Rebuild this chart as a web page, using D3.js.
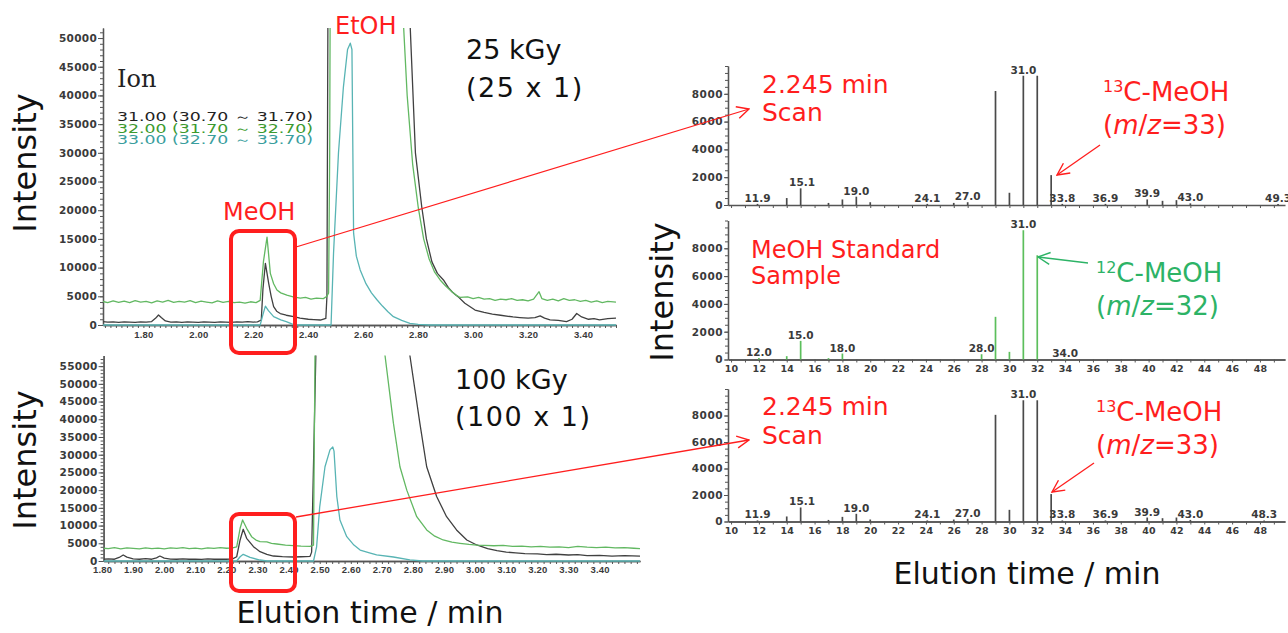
<!DOCTYPE html>
<html>
<head>
<meta charset="utf-8">
<title>MeOH / EtOH chromatograms and mass spectra</title>
<script src="https://d3js.org/d3.v7.min.js"></script>
<style>
  body { margin: 0; background: #fff; }
</style>
</head>
<body>
<svg id="fig" width="1288" height="633" font-family="DejaVu Sans, Verdana, sans-serif"></svg>
<script>
// ---- chromatogram data: [elution time (min), intensity] ----
var ion31_25 = [[1.653,600],[1.67,500],[1.69,550],[1.71,450],[1.73,550],[1.75,500],[1.77,450],[1.79,550],[1.81,500],[1.83,600],[1.845,1200],[1.855,1740],[1.865,1300],[1.88,700],[1.90,500],[1.92,550],[1.94,450],[1.96,550],[1.98,500],[2.00,450],[2.02,550],[2.04,500],[2.06,450],[2.08,550],[2.10,500],[2.12,450],[2.14,550],[2.16,500],[2.18,600],[2.20,500],[2.215,550],[2.229,870],[2.235,6200],[2.244,10750],[2.256,7260],[2.265,5000],[2.274,3200],[2.285,2400],[2.298,2000],[2.32,1700],[2.347,1450],[2.37,1200],[2.40,1000],[2.42,950],[2.444,870],[2.464,1160],[2.468,5000],[2.472,60000],
  [2.769,60000],[2.771,52000],[2.79,30000],[2.813,20600],[2.83,15000],[2.85,11000],[2.87,9000],[2.892,7850],[2.91,6500],[2.925,5700],[2.945,4940],[2.97,3800],[3.007,2600],[3.04,2200],[3.07,1900],[3.10,1700],[3.145,1400],[3.17,1300],[3.20,1200],[3.225,1300],[3.244,1600],[3.26,1200],[3.28,900],[3.31,800],[3.34,600],[3.36,1000],[3.377,2000],[3.395,1400],[3.42,1000],[3.44,1100],[3.46,900],[3.49,1100],[3.52,1200]];
var ion32_25 = [[1.653,4100],[1.67,3900],[1.69,4200],[1.71,3950],[1.73,4150],[1.75,3900],[1.77,4250],[1.79,4000],[1.81,4100],[1.83,3850],[1.85,4200],[1.87,4000],[1.89,4300],[1.91,3950],[1.93,4100],[1.95,4000],[1.97,4250],[1.99,3900],[2.01,4150],[2.03,4000],[2.05,3850],[2.07,4200],[2.09,3950],[2.11,4100],[2.13,3900],[2.15,4000],[2.17,3800],[2.19,4050],[2.21,3900],[2.225,4300],[2.237,11100],[2.25,15300],[2.262,9000],[2.274,7200],[2.286,6100],[2.30,5600],[2.322,5200],[2.345,4900],[2.371,4700],[2.39,4800],[2.41,4500],[2.43,4700],[2.455,4600],[2.468,5000],[2.474,5600],[2.478,30000],[2.48,60000],
  [2.745,60000],[2.747,52000],[2.76,40000],[2.78,28000],[2.80,20600],[2.82,15000],[2.84,11500],[2.86,9200],[2.88,7850],[2.90,6800],[2.916,6100],[2.935,5300],[2.953,4800],[2.98,4900],[3.00,4600],[3.02,4800],[3.04,4500],[3.06,4600],[3.08,4300],[3.10,4500],[3.12,4400],[3.14,4600],[3.16,4300],[3.18,4400],[3.20,4200],[3.22,4500],[3.24,5800],[3.25,4600],[3.27,4300],[3.29,4500],[3.31,4200],[3.33,4600],[3.35,4300],[3.37,4400],[3.39,4100],[3.41,4300],[3.43,4000],[3.45,4200],[3.47,3900],[3.49,4100],[3.52,4000]];
var ion33_25 = [[1.653,0],[2.225,0],[2.235,1800],[2.244,3300],[2.255,2500],[2.274,1450],[2.30,900],[2.32,600],[2.34,200],[2.36,0],[2.483,0],[2.492,12500],[2.51,30000],[2.528,41500],[2.543,48000],[2.553,49100],[2.559,48000],[2.565,16000],[2.575,12000],[2.589,9600],[2.61,7200],[2.63,5600],[2.65,4400],[2.67,3300],[2.69,2300],[2.71,1450],[2.74,800],[2.77,300],[2.80,100],[2.84,0],[3.52,0]];

var ion31_100 = [[1.805,500],[1.82,600],[1.84,500],[1.855,1000],[1.868,1700],[1.88,1100],[1.90,600],[1.92,500],[1.94,650],[1.96,500],[1.975,900],[1.986,1400],[2.00,800],[2.02,550],[2.04,500],[2.06,600],[2.08,500],[2.10,550],[2.12,450],[2.14,600],[2.16,500],[2.18,550],[2.20,500],[2.22,600],[2.233,1200],[2.244,5930],[2.254,8950],[2.265,6400],[2.287,4050],[2.308,2630],[2.33,1900],[2.351,1410],[2.38,1250],[2.415,1130],[2.44,1200],[2.469,1320],[2.474,2500],[2.488,60000],
  [2.788,60000],[2.79,58000],[2.822,38900],[2.844,26600],[2.876,18200],[2.908,12500],[2.94,8760],[2.973,5930],[3.005,4520],[3.04,3500],[3.07,2900],[3.10,2500],[3.13,2300],[3.16,2100],[3.20,2000],[3.23,1800],[3.26,1900],[3.30,1700],[3.33,1800],[3.36,1500],[3.40,1600],[3.44,1400],[3.48,1500],[3.53,1400]];
var ion32_100 = [[1.805,3600],[1.82,3500],[1.84,3750],[1.86,3450],[1.88,3700],[1.90,3550],[1.92,3400],[1.94,3700],[1.96,3500],[1.98,3650],[2.00,3450],[2.02,3700],[2.04,3550],[2.06,3750],[2.08,3500],[2.10,3650],[2.12,3450],[2.14,3700],[2.16,3550],[2.18,3800],[2.20,3600],[2.22,3700],[2.233,4000],[2.244,9230],[2.252,11580],[2.265,9230],[2.281,6870],[2.295,5900],[2.308,5460],[2.33,5400],[2.345,5000],[2.362,4800],[2.39,4500],[2.415,4330],[2.44,4200],[2.469,4140],[2.48,4500],[2.485,60000],
  [2.708,60000],[2.71,58000],[2.737,38900],[2.758,26600],[2.78,20000],[2.812,12500],[2.844,8760],[2.87,7000],[2.897,5930],[2.925,5300],[2.951,5000],[2.98,4700],[3.005,4500],[3.03,4400],[3.06,4300],[3.09,4400],[3.12,4100],[3.15,4200],[3.18,4000],[3.21,4100],[3.24,3900],[3.27,4000],[3.30,3800],[3.33,4100],[3.36,3900],[3.39,3800],[3.42,3900],[3.45,3700],[3.48,3800],[3.51,3600],[3.53,3500]];
var ion33_100 = [[1.805,0],[2.233,0],[2.244,1200],[2.254,1880],[2.276,1000],[2.308,280],[2.33,0],[2.48,0],[2.49,4000],[2.50,15300],[2.517,26600],[2.533,31350],[2.542,32200],[2.546,31000],[2.555,18200],[2.565,11580],[2.587,6860],[2.61,4500],[2.63,3100],[2.66,2300],[2.683,1700],[2.737,1130],[2.79,300],[2.83,0],[3.53,0]];

// ---- mass spectra: m/z and intensity ----
var scan25Mz  = [11.9, 14, 15, 17, 18, 19, 20, 24.1, 26, 27, 29, 30, 31, 32, 33, 33.8, 36.9, 39.9, 41, 42, 43, 49.3];
var scan25Int = [80, 500, 1200, 150, 400, 600, 200, 80, 150, 200, 8200, 880, 9300, 9300, 2150, 80, 80, 400, 300, 350, 120, 80];
var scan25Labels = [11.9, 15.1, 19.0, 24.1, 27.0, 31.0, 33.8, 36.9, 39.9, 43.0, 49.3];

var stdMz  = [12, 14, 15, 17, 18, 28, 29, 30, 31, 32, 34];
var stdInt = [100, 240, 1340, 100, 430, 380, 3070, 550, 9300, 7500, 60];
var stdLabels = [12.0, 15.0, 18.0, 28.0, 31.0, 34.0];

var scan100Mz  = [11.9, 14, 15, 17, 18, 19, 20, 24.1, 26, 27, 29, 30, 31, 32, 33, 33.8, 36.9, 39.9, 41, 42, 43, 48.3];
var scan100Int = [80, 380, 1060, 120, 350, 580, 150, 80, 150, 200, 8050, 880, 9150, 9150, 2070, 80, 80, 300, 250, 300, 120, 80];
var scan100Labels = [11.9, 15.1, 19.0, 24.1, 27.0, 31.0, 33.8, 36.9, 39.9, 43.0, 48.3];

// ---- ticks and legend ----
var yTicks25 = d3.range(0, 50001, 5000);
var yTicks100 = d3.range(0, 55001, 5000);
var xTicks25 = [1.8, 2.0, 2.2, 2.4, 2.6, 2.8, 3.0, 3.2, 3.4];
var xTicks100 = [1.8, 1.9, 2.0, 2.1, 2.2, 2.3, 2.4, 2.5, 2.6, 2.7, 2.8, 2.9, 3.0, 3.1, 3.2, 3.3, 3.4];
var mzTicks = d3.range(10, 49, 2);
var specYTicks = [0, 2000, 4000, 6000, 8000];
var ionNames = ["31.00 (30.70 ～ 31.70)", "32.00 (31.70 ～ 32.70)", "33.00 (32.70 ～ 33.70)"];

var C31 = "#404040", C32 = "#62b862", C33 = "#58b4b4";
var RED = "#ff1e1e", GRN = "#2db366", AXIS = "#555", TICK = "#3a3a3a";

var svg = d3.select("#fig");
var defs = svg.append("defs");
svg.append("rect").attr("width", 1288).attr("height", 633).attr("fill", "#fff");

function marker(id, col) {
  defs.append("marker").attr("id", id).attr("viewBox", "0 0 14 14")
    .attr("refX", 13).attr("refY", 7).attr("markerWidth", 14).attr("markerHeight", 14)
    .attr("markerUnits", "userSpaceOnUse").attr("orient", "auto")
    .append("path").attr("d", "M1,1 L13,7 L1,13").attr("fill", "none")
    .attr("stroke", col).attr("stroke-width", 1.4);
}
marker("arrRed", RED);
marker("arrGrn", GRN);

function styleAxis(sel, font, size, weight, ls) {
  sel.select(".domain").attr("stroke", AXIS).attr("stroke-width", 1.3);
  sel.selectAll(".tick line").attr("stroke", AXIS).attr("stroke-width", 1);
  sel.selectAll(".tick text").attr("fill", TICK).attr("font-family", font)
    .attr("font-size", size).attr("font-weight", weight).attr("letter-spacing", ls || 0);
}

function chrom(o) {
  var x = d3.scaleLinear().domain(o.xDom).range(o.xRng);
  var y = d3.scaleLinear().domain(o.yDom).range(o.yRng);
  var g = svg.append("g");

  defs.append("clipPath").attr("id", o.name).append("rect")
    .attr("x", o.xRng[0]).attr("y", o.yRng[1])
    .attr("width", o.xRng[1] - o.xRng[0]).attr("height", o.yRng[0] - o.yRng[1] + 1);

  // minor + major y ticks
  g.append("g").attr("transform", "translate(" + o.xRng[0] + ",0)")
    .call(d3.axisLeft(y).tickValues(d3.range(0, o.yDom[1], 1000)).tickSize(3).tickSizeOuter(0).tickFormat(""))
    .call(styleAxis);
  g.append("g").attr("transform", "translate(" + o.xRng[0] + ",0)")
    .call(d3.axisLeft(y).tickValues(o.yTicks).tickSize(5).tickSizeOuter(0).tickPadding(1).tickFormat(d3.format("d")))
    .call(styleAxis, "DejaVu Sans", 10.5, "bold", 0.3);

  // x ticks every 0.02 min inside the domain
  var minorX = d3.range(Math.ceil(o.xDom[0] * 50), Math.floor(o.xDom[1] * 50) + 1).map(function(k) { return k / 50; });
  g.append("g").attr("transform", "translate(0," + o.yRng[0] + ")")
    .call(d3.axisBottom(x).tickValues(minorX).tickSize(3).tickSizeOuter(0).tickFormat(""))
    .call(styleAxis);
  g.append("g").attr("transform", "translate(0," + o.yRng[0] + ")")
    .call(d3.axisBottom(x).tickValues(o.xTicks).tickSize(0).tickPadding(o.pad).tickFormat(d3.format(".2f")))
    .call(styleAxis, "Liberation Sans", 9.5, "bold", 0.2);

  var line = d3.line().x(function(d) { return x(d[0]); }).y(function(d) { return y(d[1]); });
  o.series.forEach(function(s) {
    g.append("path").datum(s[0]).attr("clip-path", "url(#" + o.name + ")")
      .attr("fill", "none").attr("stroke", s[1]).attr("stroke-width", 1.3)
      .attr("stroke-linejoin", "round").attr("d", line);
  });
}

chrom({ name: "c25", xDom: [1.653, 3.52], xRng: [103, 616], yDom: [0, 51750], yRng: [325, 28],
  yTicks: yTicks25, xTicks: xTicks25, pad: 6.5,
  series: [[ion31_25, C31], [ion32_25, C32], [ion33_25, C33]] });
chrom({ name: "c100", xDom: [1.805, 3.53], xRng: [103.6, 640], yDom: [0, 58000], yRng: [561, 355.5],
  yTicks: yTicks100, xTicks: xTicks100, pad: 5.5,
  series: [[ion31_100, C31], [ion32_100, C32], [ion33_100, C33]] });

function spectrum(o) {
  var x = d3.scaleLinear().domain([9.78, 49.8]).range([728, 1285]);
  var y = d3.scaleLinear().domain([0, 10000]).range(o.yRng);
  var g = svg.append("g");

  g.append("g").attr("transform", "translate(728,0)")
    .call(d3.axisLeft(y).tickValues(d3.range(0, 10001, 500)).tickSize(3).tickSizeOuter(0).tickFormat(""))
    .call(styleAxis);
  g.append("g").attr("transform", "translate(728,0)")
    .call(d3.axisLeft(y).tickValues(specYTicks).tickSize(4).tickSizeOuter(0).tickPadding(1).tickFormat(d3.format("d")))
    .call(styleAxis, "DejaVu Sans", 10.5, "bold", 0.5);
  g.append("g").attr("transform", "translate(0," + o.yRng[0] + ")")
    .call(d3.axisBottom(x).tickValues(d3.range(10, 50, 1)).tickSize(3).tickSizeOuter(0).tickFormat(""))
    .call(styleAxis);
  if (o.xLabels) {
    g.append("g").attr("transform", "translate(0," + o.yRng[0] + ")")
      .call(d3.axisBottom(x).tickValues(mzTicks).tickSize(0).tickPadding(o.pad).tickFormat(d3.format("d")))
      .call(styleAxis, "DejaVu Sans", 9.5, "bold", 0.2);
  }

  var bars = o.mz.map(function(m, i) { return { m: m, v: o.val[i] }; });
  g.selectAll("line.bar").data(bars).enter().append("line").attr("class", "bar")
    .attr("x1", function(d) { return x(d.m); }).attr("x2", function(d) { return x(d.m); })
    .attr("y1", y(0)).attr("y2", function(d) { return y(d.v); })
    .attr("stroke", o.color).attr("stroke-width", 1.7);

  g.selectAll("text.pk").data(o.labels).enter().append("text").attr("class", "pk")
    .attr("x", function(d) { return x(d); })
    .attr("y", function(d) {
      var b = bars.reduce(function(a, c) { return Math.abs(c.m - d) < Math.abs(a.m - d) ? c : a; });
      return y(b.v) - 2;
    })
    .attr("text-anchor", "middle").attr("font-size", 10.5).attr("font-weight", "bold")
    .attr("fill", TICK).text(function(d) { return d.toFixed(1); });
}

spectrum({ yRng: [205, 66], mz: scan25Mz, val: scan25Int, labels: scan25Labels, color: "#4a4a4a", xLabels: false });
spectrum({ yRng: [359.5, 220.5], mz: stdMz, val: stdInt, labels: stdLabels, color: "#5cbf5c", xLabels: true, pad: 5.5 });
spectrum({ yRng: [521.5, 389], mz: scan100Mz, val: scan100Int, labels: scan100Labels, color: "#4a4a4a", xLabels: true, pad: 6 });

// ---- axis titles ----
function label(x, y, txt, size, rot) {
  return svg.append("text").attr("transform", "translate(" + x + "," + y + ")" + (rot ? " rotate(-90)" : ""))
    .attr("text-anchor", "middle").attr("font-size", size).attr("fill", "#111").text(txt);
}
label(36, 163, "Intensity", 32, true);
label(36, 460, "Intensity", 32, true);
label(673, 292, "Intensity", 32, true);
label(370, 623, "Elution time / min", 30);
label(1027, 584, "Elution time / min", 30);

// ---- chromatogram annotations ----
svg.append("text").attr("x", 117).attr("y", 87).attr("font-family", "DejaVu Serif")
  .attr("font-size", 24).attr("fill", "#222").text("Ion");
svg.selectAll("text.ion").data(ionNames).enter().append("text").attr("class", "ion")
  .attr("x", 117).attr("y", function(d, i) { return 121 + i * 11.6; })
  .attr("font-size", 12).attr("textLength", 196).attr("lengthAdjust", "spacingAndGlyphs")
  .attr("fill", function(d, i) { return ["#222", "#3c9a2e", "#3a9e9e"][i]; }).text(function(d) { return d; });

svg.append("text").attr("x", 335).attr("y", 34).attr("font-size", 24).attr("fill", RED).text("EtOH");
svg.append("text").attr("x", 223).attr("y", 220).attr("font-size", 24).attr("fill", RED).text("MeOH");

[["25 kGy", 466, 59], ["(25 x 1)", 466, 97], ["100 kGy", 455, 389], ["(100 x 1)", 455, 426]].forEach(function(d, i) {
  svg.append("text").attr("x", d[1]).attr("y", d[2]).attr("font-size", 27).attr("fill", "#111")
    .attr("letter-spacing", i % 2 ? 1.5 : 0).attr("xml:space", "preserve").text(d[0]);
});

svg.append("rect").attr("x", 231).attr("y", 231).attr("width", 64).attr("height", 122).attr("rx", 8)
  .attr("fill", "none").attr("stroke", RED).attr("stroke-width", 4);
svg.append("rect").attr("x", 231).attr("y", 514).attr("width", 64).attr("height", 77).attr("rx", 8)
  .attr("fill", "none").attr("stroke", RED).attr("stroke-width", 4);

function arrow(x1, y1, x2, y2, col, mk) {
  svg.append("line").attr("x1", x1).attr("y1", y1).attr("x2", x2).attr("y2", y2)
    .attr("stroke", col).attr("stroke-width", 1.3).attr("marker-end", "url(#" + mk + ")");
}
arrow(296, 247, 749, 109, RED, "arrRed");
arrow(296, 517, 749, 440, RED, "arrRed");

// ---- spectrum annotations ----
function redText(x, y, txt, size, col) {
  return svg.append("text").attr("x", x).attr("y", y).attr("font-size", size).attr("fill", col || RED).text(txt);
}
redText(762, 93, "2.245 min", 25);
redText(762, 121, "Scan", 25);
redText(762, 415, "2.245 min", 25);
redText(762, 444, "Scan", 25);
redText(751, 258, "MeOH Standard", 24);
redText(751, 284, "Sample", 24);

function isoLabel(x, y, sup, mz, col) {
  var t = svg.append("text").attr("x", x).attr("y", y).attr("font-size", 26).attr("fill", col);
  t.append("tspan").attr("font-size", 16).attr("dy", -9).text(sup);
  t.append("tspan").attr("dy", 9).text("C-MeOH");
  var u = svg.append("text").attr("x", x).attr("y", y + 33).attr("font-size", 26).attr("fill", col);
  u.append("tspan").text("(");
  u.append("tspan").attr("font-style", "italic").text("m");
  u.append("tspan").text("/");
  u.append("tspan").attr("font-style", "italic").text("z");
  u.append("tspan").text("=" + mz + ")");
}
isoLabel(1103, 101, "13", 33, RED);
isoLabel(1096, 282, "12", 32, GRN);
isoLabel(1096, 421, "13", 33, RED);

arrow(1100, 145, 1057, 175, RED, "arrRed");
arrow(1088, 263, 1038, 257, GRN, "arrGrn");
arrow(1094, 463, 1052, 492, RED, "arrRed");
</script>
</body>
</html>
